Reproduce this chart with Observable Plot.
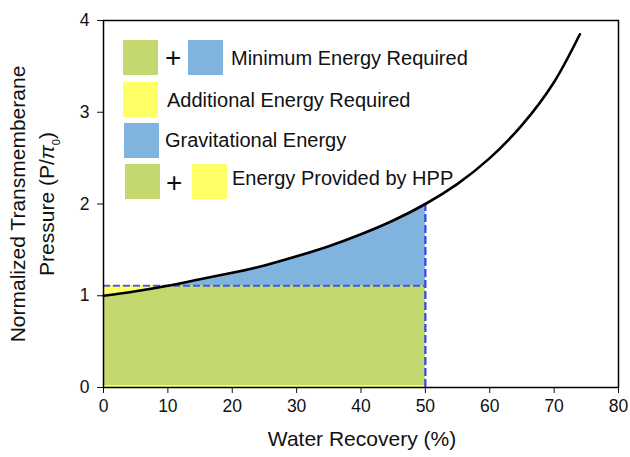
<!DOCTYPE html>
<html>
<head>
<meta charset="utf-8">
<script src="https://cdn.jsdelivr.net/npm/d3@7"></script>
<script src="https://cdn.jsdelivr.net/npm/@observablehq/plot@0.6"></script>
<style>
  body { margin: 0; background: #fff; font-family: "Liberation Sans", Arial, sans-serif; }
  #wrap { position: relative; width: 630px; height: 457px; }
  .leg { position: absolute; font-size: 20px; line-height: 24px; color: #111; white-space: nowrap; }
  .sw { position: absolute; width: 35px; height: 35px; }
  .plus { position: absolute; font-size: 28px; line-height: 30px; color: #111; }
  .ytitle { position: absolute; left: 37px; top: 204px; transform: translate(-50%, -50%) rotate(-90deg); font-size: 21px; text-align: center; line-height: 29px; white-space: nowrap; color: #111; }
  .xtitle { position: absolute; left: 362px; top: 439px; transform: translate(-50%, -50%); font-size: 21px; color: #111; white-space: nowrap; }
</style>
</head>
<body>
<div id="wrap"></div>
<script>
// Curve
const recovery = [0, 5, 10, 15, 20, 25, 30, 35, 40, 45, 50, 55, 60, 65, 70, 74];
const pressure = [1.0, 1.05, 1.11, 1.18, 1.25, 1.33, 1.43, 1.54, 1.67, 1.82, 2.0, 2.22, 2.5, 2.86, 3.33, 3.85];
// HPP operating point
const hppRecovery = 50;
const hppPressure = 2.0;
const gravPressure = 1.11;
const crossRecovery = 10;
const xTicks = [0, 10, 20, 30, 40, 50, 60, 70, 80];
const yTicks = [0, 1, 2, 3, 4];
const legendLabels = ["Minimum Energy Required", "Additional Energy Required", "Gravitational Energy", "Energy Provided by HPP"];

const GREEN = "#c3d96f", BLUE = "#80b3de", YELLOW = "#ffff66", DASH = "#3344ee";

const curve = recovery.map((r, i) => ({r, p: pressure[i]}));
const blueArea = curve.filter(d => d.r >= crossRecovery && d.r <= hppRecovery);
const yellowArea = curve.filter(d => d.r <= crossRecovery);

const chart = Plot.plot({
  width: 630, height: 457,
  marginLeft: 103, marginRight: 12, marginTop: 20, marginBottom: 70,
  style: {fontFamily: "Liberation Sans, Arial, sans-serif", fontSize: "17.5px", color: "#111"},
  x: {domain: [0, 80], label: null},
  y: {domain: [0, 4], label: null},
  marks: [
    Plot.rectY([{x1: 0, x2: hppRecovery, y1: 0, y2: gravPressure}], {x1: "x1", x2: "x2", y1: "y1", y2: "y2", fill: GREEN}),
    Plot.areaY(yellowArea, {x: "r", y1: "p", y2: () => gravPressure, fill: YELLOW, curve: "natural"}),
    Plot.areaY(blueArea, {x: "r", y1: () => gravPressure, y2: "p", fill: BLUE, curve: "natural"}),
    Plot.ruleY([0], {x1: 0, x2: hppRecovery, stroke: YELLOW, strokeWidth: 2, dy: -1.5}),
    Plot.ruleY([gravPressure], {x1: 0, x2: hppRecovery, stroke: DASH, strokeWidth: 2, strokeDasharray: "7,3", strokeOpacity: 0.85}),
    Plot.ruleX([hppRecovery], {y1: 0, y2: hppPressure, stroke: DASH, strokeWidth: 2.2, strokeDasharray: "8,3"}),
    Plot.line(curve, {x: "r", y: "p", stroke: "black", strokeWidth: 2.6, curve: "natural"}),
    Plot.frame({stroke: "black", strokeWidth: 1.5}),
    Plot.axisX({ticks: xTicks, tickFormat: d3.format("d"), tickSize: 6, tickPadding: 6, fontSize: 17.5, label: null}),
    Plot.axisY({ticks: yTicks, tickFormat: d3.format("d"), tickSize: 6, tickPadding: 8, fontSize: 17.5, label: null})
  ]
});

const wrap = document.getElementById("wrap");
wrap.appendChild(chart);

function add(html) { wrap.insertAdjacentHTML("beforeend", html); }
// Legend
add(`<div class="sw" style="left:123px;top:40px;background:${GREEN}"></div>`);
add(`<div class="plus" style="left:165px;top:43px">+</div>`);
add(`<div class="sw" style="left:188px;top:40px;background:${BLUE}"></div>`);
add(`<div class="leg" style="left:231px;top:46px">${legendLabels[0]}</div>`);
add(`<div class="sw" style="left:123px;top:82px;background:${YELLOW}"></div>`);
add(`<div class="leg" style="left:167px;top:88px">${legendLabels[1]}</div>`);
add(`<div class="sw" style="left:124px;top:123px;background:${BLUE}"></div>`);
add(`<div class="leg" style="left:165px;top:128px">${legendLabels[2]}</div>`);
add(`<div class="sw" style="left:125px;top:164px;background:${GREEN}"></div>`);
add(`<div class="plus" style="left:166px;top:168px">+</div>`);
add(`<div class="sw" style="left:192px;top:164px;background:${YELLOW}"></div>`);
add(`<div class="leg" style="left:232px;top:166px">${legendLabels[3]}</div>`);
// Axis titles
add(`<div class="ytitle">Normalized Transmemberane<br>Pressure (P/<i>π</i><sub style="font-size:11px">0</sub>)</div>`);
add(`<div class="xtitle">Water Recovery (%)</div>`);
</script>
</body>
</html>
